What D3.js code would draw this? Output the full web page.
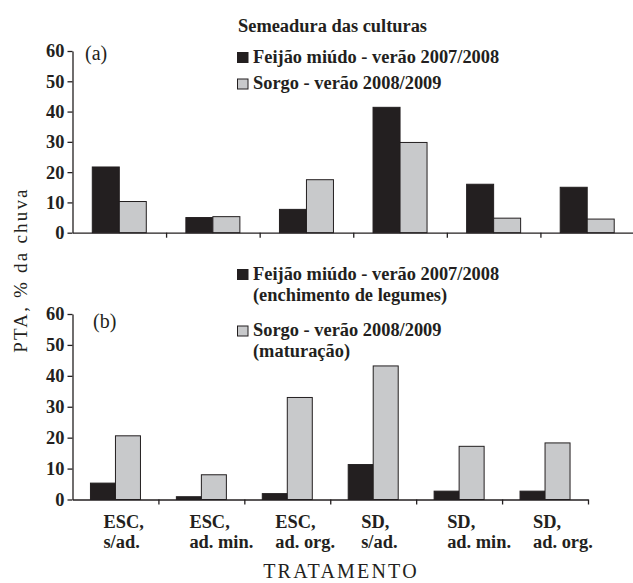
<!DOCTYPE html>
<html>
<head>
<meta charset="utf-8">
<script src="https://cdn.jsdelivr.net/npm/d3@7"></script>
<style>
  html, body { margin: 0; padding: 0; background: #fff; }
  svg { display: block; }
</style>
</head>
<body>
<svg id="chart" width="633" height="583"></svg>
<script>
// ---------- data ----------
const catLine1 = ["ESC,", "ESC,", "ESC,", "SD,", "SD,", "SD,"];
const catLine2 = ["s/ad.", "ad. min.", "ad. org.", "s/ad.", "ad. min.", "ad. org."];
const yTicks = [0, 10, 20, 30, 40, 50, 60];

const legendTitleA = "Semeadura das culturas";
const seriesNamesA = ["Feijão miúdo - verão 2007/2008", "Sorgo - verão 2008/2009"];
const seriesNamesB = [["Feijão miúdo - verão 2007/2008", "(enchimento de legumes)"],
                      ["Sorgo - verão 2008/2009", "(maturação)"]];

const feijaoA = [21.7, 5.0, 7.7, 41.4, 16.0, 15.0];
const sorgoA  = [10.3, 5.3, 17.5, 29.8, 4.8, 4.5];
const feijaoB = [5.3, 0.9, 1.9, 11.3, 2.7, 2.7];
const sorgoB  = [20.6, 8.0, 33.0, 43.2, 17.2, 18.3];

// ---------- style ----------
const INK = "#231f20";
const GRAY = "#c8c9cb";
const fills = [INK, GRAY];
const BOLD = "font-family:'Liberation Serif','Times New Roman',serif;font-weight:bold;font-size:18.4px;fill:#231f20";
const REG = size => `font-family:'Liberation Serif','Times New Roman',serif;font-weight:normal;font-size:${size}px;fill:#231f20`;

const svg = d3.select("#chart");

function panel(opts) {
  const { left, right, bottom, top, barW, series, label, labelX, labelY, showCats } = opts;
  const g = svg.append("g");
  const y = d3.scaleLinear().domain([0, 60]).range([bottom, top]);
  const x0 = d3.scaleBand().domain(d3.range(catLine1.length)).range([left, right]).padding(0);
  const x1 = d3.scaleBand().domain(d3.range(series.length))
    .range([x0.bandwidth() / 2 - barW, x0.bandwidth() / 2 + barW]);
  const xEdge = d3.scaleLinear().domain([0, catLine1.length]).range([left, right]);

  // bars
  series.forEach((vals, si) => {
    g.append("g").selectAll("rect").data(vals).join("rect")
      .attr("x", (d, i) => x0(i) + x1(si))
      .attr("y", d => y(d))
      .attr("width", x1.bandwidth())
      .attr("height", d => y(0) - y(d))
      .attr("fill", fills[si])
      .attr("stroke", INK)
      .attr("stroke-width", 1);
  });

  // y axis
  const ya = g.append("g").attr("transform", `translate(${left},0)`)
    .call(d3.axisLeft(y).tickValues(yTicks).tickSize(5).tickSizeOuter(0).tickPadding(3));
  ya.select(".domain").attr("stroke", INK).attr("stroke-width", 1.3);
  ya.selectAll(".tick line").attr("stroke", INK).attr("stroke-width", 1.3);
  ya.selectAll(".tick text").attr("style", BOLD);

  // x axis
  const xa = g.append("g").attr("transform", `translate(0,${y(0)})`)
    .call(d3.axisBottom(xEdge).tickValues(d3.range(1, catLine1.length + 1)).tickFormat("").tickSize(5).tickSizeOuter(0));
  xa.select(".domain").attr("stroke", INK).attr("stroke-width", 1.3);
  xa.selectAll(".tick line").attr("stroke", INK).attr("stroke-width", 1.3);

  // panel letter
  g.append("text").attr("style", REG(20))
    .attr("x", labelX).attr("y", labelY).text(label);

  if (showCats) {
    const cg = g.append("g");
    catLine1.forEach((c, i) => {
      const cx = x0(i) + x0.bandwidth() / 2 - 12;
      cg.append("text").attr("style", BOLD).attr("x", cx).attr("y", y(0) + 28).text(c);
      cg.append("text").attr("style", BOLD).attr("x", cx).attr("y", y(0) + 48).text(catLine2[i]);
    });
  }
  return { x0, y };
}

panel({ left: 72.5, right: 634, bottom: 232.7, top: 51, barW: 27,
        series: [feijaoA, sorgoA], label: "(a)", labelX: 85, labelY: 60, showCats: false });
panel({ left: 72.5, right: 588, bottom: 499.5, top: 314, barW: 25,
        series: [feijaoB, sorgoB], label: "(b)", labelX: 93, labelY: 328, showCats: true });

// ---------- legends ----------
const lg = svg.append("g");
lg.append("text").attr("style", BOLD).attr("x", 238).attr("y", 32).text(legendTitleA);
const legAY = [62.5, 89];
seriesNamesA.forEach((s, i) => {
  lg.append("rect").attr("x", 237.5).attr("y", legAY[i] - 10).attr("width", 10.5).attr("height", 10)
    .attr("fill", fills[i]).attr("stroke", INK).attr("stroke-width", 1);
  lg.append("text").attr("style", BOLD).attr("x", 253).attr("y", legAY[i]).text(s);
});
const legBY = [279.5, 336];
seriesNamesB.forEach((lines, i) => {
  lg.append("rect").attr("x", 237.5).attr("y", legBY[i] - 10).attr("width", 10.5).attr("height", 10)
    .attr("fill", fills[i]).attr("stroke", INK).attr("stroke-width", 1);
  lines.forEach((t, j) => {
    lg.append("text").attr("style", BOLD).attr("x", 253).attr("y", legBY[i] + j * 21).text(t);
  });
});

// ---------- axis titles ----------
svg.append("text").attr("style", REG(19) + ";letter-spacing:2.2px")
  .attr("text-anchor", "middle")
  .attr("transform", "translate(27,270) rotate(-90)")
  .text("PTA, % da chuva");

svg.append("text").attr("style", REG(20) + ";letter-spacing:2.2px")
  .attr("text-anchor", "middle")
  .attr("x", 341).attr("y", 578)
  .text("TRATAMENTO");
</script>
</body>
</html>
